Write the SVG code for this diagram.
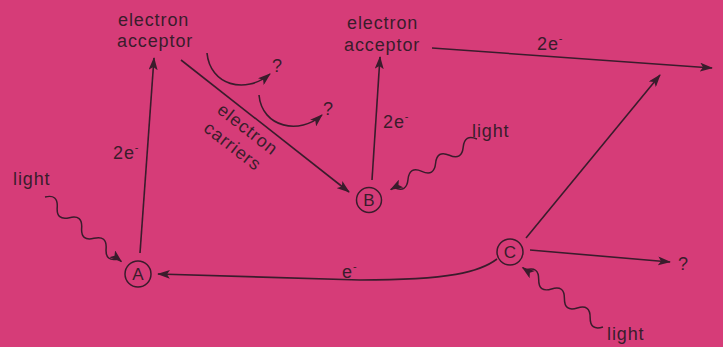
<svg xmlns="http://www.w3.org/2000/svg" width="723" height="347" viewBox="0 0 723 347">
<defs>
<marker id="ah" viewBox="0 0 13 9" refX="12" refY="4.5" markerWidth="13" markerHeight="9" markerUnits="userSpaceOnUse" orient="auto">
<path d="M0,0 L13,4.5 L0,9 L3,4.5 z" fill="#3a1c2c"/>
</marker>
</defs>
<style>
.t{font-family:"Liberation Sans",Arial,sans-serif;font-size:18px;fill:#3a1c2c;letter-spacing:0.9px}
.s{font-family:"Liberation Sans",Arial,sans-serif;font-size:11px;fill:#3a1c2c}
.c{font-family:"Liberation Sans",Arial,sans-serif;font-size:17px;fill:#3a1c2c;text-anchor:middle}
.ln{fill:none;stroke:#3a1c2c;stroke-width:1.6}
.ar{fill:none;stroke:#3a1c2c;stroke-width:1.6;marker-end:url(#ah)}
.wv{fill:none;stroke:#3a1c2c;stroke-width:1.5;marker-end:url(#ah)}
.n{fill:none;stroke:#3a1c2c;stroke-width:1.5}
</style>
<rect width="723" height="347" fill="#d63c78"/>

<g id="connectors">
<path class="ar" d="M140,253 L154,58"/>
<path class="ar" d="M181,60 L349,192"/>
<path class="ar" d="M372,180 L380,57"/>
<path class="ar" d="M432,48 L712,68"/>
<path class="ar" d="M526,238 L660,75"/>
<path class="ar" d="M530,250 L670,262"/>
<path class="ar" d="M497,259 C480,272 450,280 360,280 L158,274"/>
<path class="ar" d="M207,53 C210,85 245,95 270,74"/>
<path class="ar" d="M259,95 C262,128 300,135 322,115"/>
<g transform="translate(45,197) rotate(40.2)"><path class="wv" d="M0,0 q8,-11 16,0 t16,0 t16,0 t16,0 t16,0 t16,0 L100,0"/></g>
<g transform="translate(477,139) rotate(149.6)"><path class="wv" d="M0,0 q8,11 16,0 t16,0 t16,0 t16,0 t16,0 t16,0 L100,0"/></g>
<g transform="translate(603,327) rotate(216.5)"><path class="wv" d="M0,0 q8,-11 16,0 t16,0 t16,0 t16,0 t16,0 t16,0 L100,0"/></g>
<text class="t" x="113" y="159">2e<tspan class="s" dy="-8">-</tspan></text>
<text class="t" x="383" y="128">2e<tspan class="s" dy="-8">-</tspan></text>
<text class="t" x="537" y="50">2e<tspan class="s" dy="-8">-</tspan></text>
<text class="t" x="342" y="278">e<tspan class="s" dy="-8">-</tspan></text>
<text class="t" text-anchor="middle" transform="translate(244,134) rotate(38)">electron</text>
<text class="t" text-anchor="middle" transform="translate(229,151) rotate(38)">carriers</text>
</g>

<g id="acceptor-left">
<text class="t" x="118" y="26">electron</text>
<text class="t" x="117" y="47">acceptor</text>
</g>
<g id="acceptor-right">
<text class="t" x="347" y="29">electron</text>
<text class="t" x="344" y="51">acceptor</text>
</g>
<g id="node-A">
<circle class="n" cx="138" cy="274" r="13"/>
<text class="c" x="138" y="280">A</text>
</g>
<g id="node-B">
<circle class="n" cx="369" cy="200" r="12.5"/>
<text class="c" x="369" y="206">B</text>
</g>
<g id="node-C">
<circle class="n" cx="510" cy="252" r="13"/>
<text class="c" x="510" y="258">C</text>
</g>
<g id="q1"><text class="t" x="272" y="72">?</text></g>
<g id="q2"><text class="t" x="323" y="115">?</text></g>
<g id="q3"><text class="t" x="678" y="270">?</text></g>
<g id="light-A"><text class="t" x="13" y="185">light</text></g>
<g id="light-B"><text class="t" x="472" y="137">light</text></g>
<g id="light-C"><text class="t" x="607" y="340">light</text></g>
</svg>
